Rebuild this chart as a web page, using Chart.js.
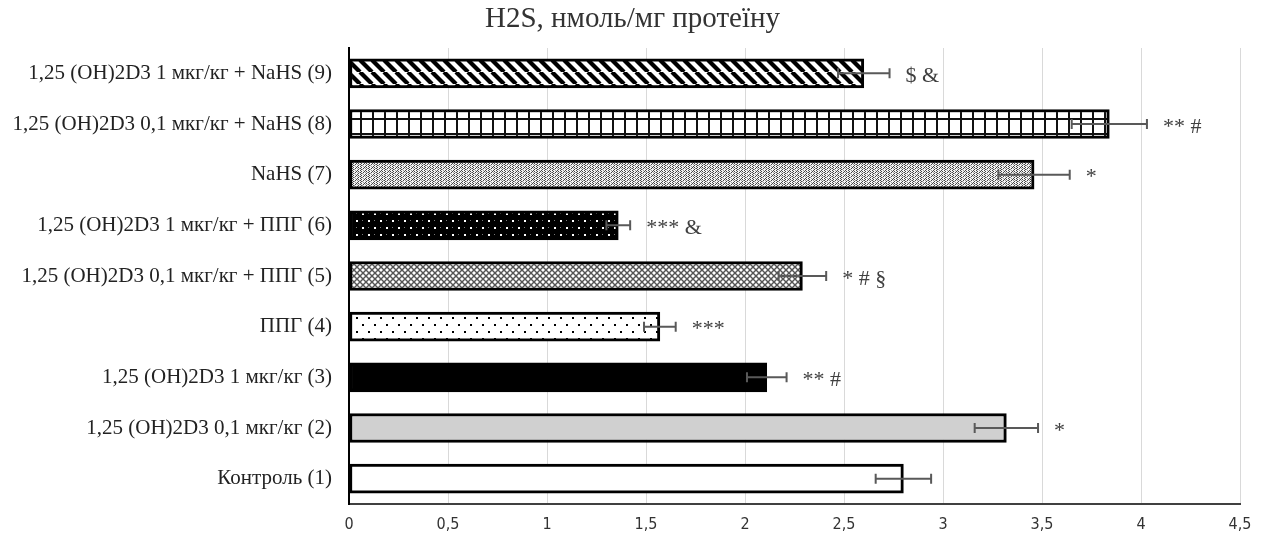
<!DOCTYPE html>
<html><head><meta charset="utf-8">
<script src="https://cdn.jsdelivr.net/npm/chart.js@4.4.1/dist/chart.umd.min.js"></script>
<style>html,body{margin:0;padding:0;background:#fff}#wrap{width:1265px;height:541px}</style>
</head><body><div id="wrap"><canvas id="c" width="1265" height="541"></canvas></div>
<script>
// ---- data (top-to-bottom order as shown) ----
const categories = [
  '1,25 (OH)2D3 1 мкг/кг + NaHS (9)',
  '1,25 (OH)2D3 0,1 мкг/кг + NaHS (8)',
  'NaHS (7)',
  '1,25 (OH)2D3 1 мкг/кг + ППГ (6)',
  '1,25 (OH)2D3 0,1 мкг/кг + ППГ (5)',
  'ППГ (4)',
  '1,25 (OH)2D3 1 мкг/кг (3)',
  '1,25 (OH)2D3 0,1 мкг/кг (2)',
  'Контроль (1)'
];
const values = [2.60, 3.84, 3.46, 1.36, 2.29, 1.57, 2.11, 3.32, 2.80];
const errors = [0.13, 0.19, 0.18, 0.06, 0.12, 0.08, 0.10, 0.16, 0.14];
const marks  = ['$ &', '** #', '*', '*** &', '* # §', '***', '** #', '*', ''];
const xTickLabels = ['0', '0,5', '1', '1,5', '2', '2,5', '3', '3,5', '4', '4,5'];
const titleText = 'H2S, нмоль/мг протеїну';

// ---- patterns ----
function tile(w, h, draw) {
  const c = document.createElement('canvas');
  c.width = w; c.height = h;
  const g = c.getContext('2d');
  draw(g, w, h);
  return c;
}
const ctxMain = document.getElementById('c').getContext('2d');
function pat(t, dx, dy) {
  const p = ctxMain.createPattern(t, 'repeat');
  if (dx || dy) p.setTransform(new DOMMatrix().translate(dx || 0, dy || 0));
  return p;
}
const pStripes = pat(tile(12, 12, (g, w, h) => {
  g.fillStyle = '#fff'; g.fillRect(0, 0, w, h);
  g.strokeStyle = '#000'; g.lineWidth = 4.2;
  for (let k = -1; k <= 1; k++) { g.beginPath(); g.moveTo(k * w, 0); g.lineTo(k * w + w, h); g.stroke(); }
}));
const pGrid = pat(tile(12, 15, (g, w, h) => {
  g.fillStyle = '#fff'; g.fillRect(0, 0, w, h);
  g.fillStyle = '#111';
  g.fillRect(0, 0, 2, h);
  g.fillRect(0, 0, w, 2);
}), 0, 13);
const pFine = pat(tile(8, 4, (g, w, h) => {
  g.fillStyle = '#f4f4f4'; g.fillRect(0, 0, w, h);
  g.fillStyle = '#444';
  [[0,0],[0,2],[1,1],[1,3],[3,0],[5,2],[6,1],[6,3],[4,3]].forEach(([x, y]) => g.fillRect(x, y, 1, 1));
  g.fillStyle = '#999';
  [[2,1],[7,0],[3,2],[5,0]].forEach(([x, y]) => g.fillRect(x, y, 1, 1));
}));
const pBlackDots = pat(tile(12, 14, (g, w, h) => {
  g.fillStyle = '#000'; g.fillRect(0, 0, w, h);
  g.fillStyle = '#fff';
  g.fillRect(2, 3, 2, 2); g.fillRect(8, 10, 2, 2);
  g.fillStyle = '#777';
  g.fillRect(8, 3, 1, 1); g.fillRect(2, 10, 1, 1);
}));
const pDiamond = pat(tile(6, 6, (g, w, h) => {
  g.fillStyle = '#fff'; g.fillRect(0, 0, w, h);
  g.strokeStyle = '#555'; g.lineWidth = 1.4;
  for (let k = -1; k <= 1; k++) {
    g.beginPath(); g.moveTo(k * w, 0); g.lineTo(k * w + w, h); g.stroke();
    g.beginPath(); g.moveTo(k * w + w, 0); g.lineTo(k * w, h); g.stroke();
  }
}));
const pWhiteDots = pat(tile(12, 14, (g, w, h) => {
  g.fillStyle = '#fff'; g.fillRect(0, 0, w, h);
  g.fillStyle = '#000';
  g.fillRect(2, 2, 2, 2); g.fillRect(8, 9, 2, 2);
}));
const fills = [pStripes, pGrid, pFine, pBlackDots, pDiamond, pWhiteDots, '#000000', '#d0d0d0', '#ffffff'];

// ---- title, error bars + marks plugin ----
const extras = {
  id: 'extras',
  afterDraw(chart) {
    const ctx = chart.ctx;
    ctx.save();
    ctx.fillStyle = '#333';
    ctx.font = '29px "Liberation Serif", "Times New Roman", serif';
    ctx.textAlign = 'center';
    ctx.textBaseline = 'middle';
    ctx.fillText(titleText, chart.width / 2, 19);
    ctx.restore();
  },
  afterDatasetsDraw(chart) {
    const ctx = chart.ctx;
    const xs = chart.scales.x;
    const meta = chart.getDatasetMeta(0);
    ctx.save();
    meta.data.forEach((bar, i) => {
      const y = bar.y;
      const x1 = xs.getPixelForValue(values[i] - errors[i]);
      const x2 = xs.getPixelForValue(values[i] + errors[i]);
      ctx.strokeStyle = '#595959';
      ctx.lineWidth = 2;
      ctx.beginPath();
      ctx.moveTo(x1, y); ctx.lineTo(x2, y);
      ctx.moveTo(x1, y - 5); ctx.lineTo(x1, y + 5);
      ctx.moveTo(x2, y - 5); ctx.lineTo(x2, y + 5);
      ctx.stroke();
      if (marks[i]) {
        ctx.fillStyle = '#404040';
        ctx.font = '22px "Liberation Serif", "Times New Roman", serif';
        ctx.textAlign = 'left';
        ctx.textBaseline = 'middle';
        ctx.fillText(marks[i], x2 + 16, y + 3);
      }
    });
    ctx.restore();
  }
};

new Chart(document.getElementById('c'), {
  type: 'bar',
  data: {
    labels: categories,
    datasets: [{
      data: values,
      backgroundColor: fills,
      borderColor: '#000',
      borderWidth: 3,
      borderSkipped: false,
      barThickness: 29
    }]
  },
  options: {
    indexAxis: 'y',
    responsive: false,
    animation: false,
    devicePixelRatio: 1,
    layout: { padding: { left: 0, right: 25, top: 48, bottom: 0 } },
    plugins: {
      legend: { display: false },
      tooltip: { enabled: false },
      title: { display: false }
    },
    scales: {
      x: {
        min: 0, max: 4.5,
        ticks: {
          stepSize: 0.5,
          color: '#333',
          padding: 11,
          font: { family: '"Liberation Sans Narrow", "DejaVu Sans Condensed", sans-serif', size: 16 },
          callback: (v, i) => xTickLabels[i]
        },
        grid: { color: '#d9d9d9', lineWidth: 1, drawTicks: false },
        border: { color: '#404040', width: 2 },
        afterFit: (s) => { s.height = 37; }
      },
      y: {
        ticks: {
          color: '#222',
          padding: 17,
          font: { family: '"Liberation Serif", "Times New Roman", serif', size: 21 }
        },
        grid: { display: false, drawTicks: false },
        border: { color: '#000', width: 2 },
        afterFit: (s) => { s.width = 349; }
      }
    }
  },
  plugins: [extras]
});
</script></body></html>
